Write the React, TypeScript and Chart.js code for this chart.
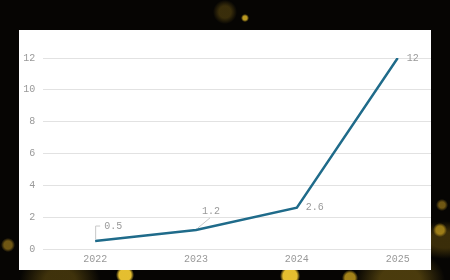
import React, { useEffect, useRef } from "react";
import { Chart, registerables } from "chart.js";

Chart.register(...registerables);

const years = [2022, 2023, 2024, 2025];
const values = [0.5, 1.2, 2.6, 12];
const yTicks = [0, 2, 4, 6, 8, 10, 12];

const FONT = "'Liberation Mono', 'DejaVu Sans Mono', monospace";
const TEXT = "#999999";

const labelPlugin = {
  id: "pointLabels",
  afterDatasetsDraw(chart: any) {
    const ctx = chart.ctx;
    const meta = chart.getDatasetMeta(0);
    ctx.save();
    ctx.font = `10px ${FONT}`;
    ctx.fillStyle = TEXT;
    ctx.textBaseline = "middle";
    ctx.strokeStyle = "#c8c8c8";
    ctx.lineWidth = 1;
    meta.data.forEach((pt: any, i: number) => {
      const x = pt.x;
      const y = pt.y;
      const text = String(values[i]);
      if (i === 0) {
        ctx.beginPath();
        ctx.moveTo(x + 0.5, y - 2);
        ctx.lineTo(x + 0.5, y - 15);
        ctx.lineTo(x + 5, y - 15);
        ctx.stroke();
        ctx.textAlign = "left";
        ctx.fillText(text, x + 9, y - 15);
      } else if (i === 1) {
        ctx.beginPath();
        ctx.moveTo(x + 2, y - 2);
        ctx.lineTo(x + 14, y - 12);
        ctx.stroke();
        ctx.textAlign = "center";
        ctx.fillText(text, x + 15, y - 19);
      } else {
        ctx.textAlign = "left";
        ctx.fillText(text, x + 9, y);
      }
    });
    ctx.restore();
  },
};

export default function App() {
  const ref = useRef<HTMLCanvasElement>(null);
  useEffect(() => {
    if (!ref.current) return;
    const chart = new Chart(ref.current, {
      type: "line",
      data: {
        datasets: [
          {
            data: years.map((y, i) => ({ x: y, y: values[i] })),
            borderColor: "#1f6b8a",
            borderWidth: 2.5,
            pointRadius: 0,
            tension: 0,
            fill: false,
          },
        ],
      },
      options: {
        animation: false,
        responsive: false,
        maintainAspectRatio: false,
        layout: { padding: { top: 28, right: 0, left: 0, bottom: 0 } },
        plugins: { legend: { display: false }, tooltip: { enabled: false } },
        scales: {
          x: {
            type: "linear",
            min: 2021.486,
            max: 2025.33,
            afterBuildTicks: (s: any) => {
              s.ticks = years.map((v) => ({ value: v }));
            },
            afterFit: (s: any) => {
              s.height = 21;
            },
            grid: { display: false, drawTicks: false },
            border: { display: false },
            ticks: {
              padding: 4,
              color: TEXT,
              font: { family: FONT, size: 10 },
              callback: (v: any) => String(v),
              maxRotation: 0,
            },
          },
          y: {
            min: 0,
            max: 12,
            afterBuildTicks: (s: any) => {
              s.ticks = yTicks.map((v) => ({ value: v }));
            },
            afterFit: (s: any) => {
              s.width = 24.3;
            },
            grid: { color: "#e2e2e2", drawTicks: false, lineWidth: 1 },
            border: { display: false },
            ticks: {
              padding: 8,
              color: TEXT,
              font: { family: FONT, size: 10 },
            },
          },
        },
      },
      plugins: [labelPlugin],
    });
    return () => chart.destroy();
  }, []);

  const bg =
    "radial-gradient(circle at 245px 18px, rgba(230,190,40,0.8) 0 2px, transparent 4px)," +
    "radial-gradient(circle at 225px 12px, rgba(120,95,20,0.45) 0 6px, transparent 12px)," +
    "radial-gradient(circle at 125px 275px, rgba(240,200,50,0.95) 0 6px, transparent 9px)," +
    "radial-gradient(circle at 290px 276px, rgba(240,200,50,0.95) 0 7px, transparent 10px)," +
    "radial-gradient(circle at 350px 278px, rgba(200,160,30,0.8) 0 5px, transparent 8px)," +
    "radial-gradient(circle at 440px 230px, rgba(200,160,30,0.7) 0 4px, transparent 7px)," +
    "radial-gradient(circle at 442px 205px, rgba(180,140,30,0.6) 0 3px, transparent 6px)," +
    "radial-gradient(circle at 8px 245px, rgba(180,140,30,0.6) 0 4px, transparent 7px)," +
    "radial-gradient(ellipse at 400px 280px, rgba(120,95,20,0.6) 0 20px, transparent 45px)," +
    "radial-gradient(ellipse at 60px 280px, rgba(120,95,20,0.5) 0 15px, transparent 40px)," +
    "radial-gradient(ellipse at 445px 240px, rgba(110,85,15,0.5) 0 15px, transparent 35px)," +
    "#060503";

  return (
    <div
      style={{
        position: "fixed",
        left: 0,
        top: 0,
        width: 450,
        height: 280,
        background: bg,
        overflow: "hidden",
      }}
    >
      <div
        style={{
          position: "absolute",
          left: 19,
          top: 30,
          width: 412,
          height: 240,
          background: "#ffffff",
        }}
      >
        <canvas ref={ref} width={412} height={240} style={{ display: "block" }} />
      </div>
    </div>
  );
}
